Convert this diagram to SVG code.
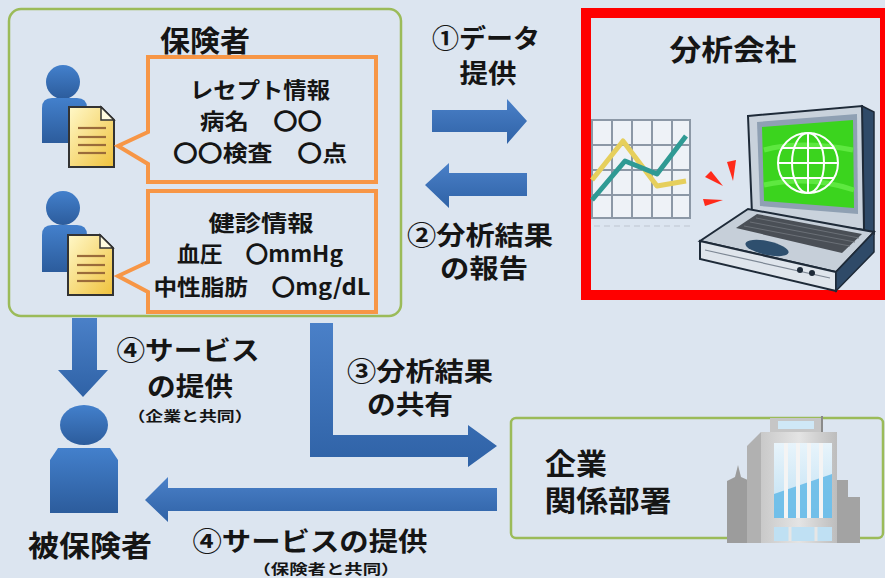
<svg xmlns="http://www.w3.org/2000/svg" width="885" height="578" viewBox="0 0 885 578">
  <style>
    text { font-family: "Noto Sans CJK JP", "Noto Sans CJK SC", sans-serif; font-weight: bold; fill: #151515; text-anchor: middle; }
    .t30 { font-size: 29px; }
    .t26 { font-size: 26px; }
    .t22 { font-size: 22px; }
    .t15 { font-size: 14px; }
    .group-box { fill: none; stroke: #9bbb59; stroke-width: 2.5; }
    .callout { fill: none; stroke: #f79646; stroke-width: 4; stroke-linejoin: miter; }
    .arrow { fill: url(#arrowGrad); }
    .person { fill: url(#personGrad); }
    .doc { fill: url(#docGrad); stroke: #333; stroke-width: 2; }
    .doc-fold { fill: #fffbe0; stroke: #333; stroke-width: 1.5; }
    .doc-line { stroke: #9a6b3a; stroke-width: 2.2; }
    .grid { stroke: #8c98a6; stroke-width: 2; fill: none; }
    .globe { fill: none; stroke: #ffffff; stroke-width: 2; }
  </style>
  <defs>
    <linearGradient id="arrowGrad" x1="0" y1="0" x2="0" y2="1">
      <stop offset="0" stop-color="#4a80c8"/>
      <stop offset="1" stop-color="#2f62a6"/>
    </linearGradient>
    <linearGradient id="personGrad" x1="0" y1="0" x2="0" y2="1">
      <stop offset="0" stop-color="#4380cc"/>
      <stop offset="1" stop-color="#2c5c9c"/>
    </linearGradient>
    <linearGradient id="docGrad" x1="0" y1="0" x2="1" y2="1">
      <stop offset="0" stop-color="#fff8c8"/>
      <stop offset="1" stop-color="#f0c23c"/>
    </linearGradient>
    <linearGradient id="towerGrad" x1="0" y1="0" x2="1" y2="0">
      <stop offset="0" stop-color="#c9c9c9"/>
      <stop offset="0.5" stop-color="#e4e4e4"/>
      <stop offset="1" stop-color="#bdbdbd"/>
    </linearGradient>
    <linearGradient id="glassGrad" x1="0" y1="0" x2="0" y2="1">
      <stop offset="0" stop-color="#e8f4fb"/>
      <stop offset="1" stop-color="#bfe0f3"/>
    </linearGradient>
    <g id="document">
      <path class="doc" d="M0,0 H32 L45,13 V60 H0 Z"/>
      <path class="doc-fold" d="M32,0 V13 H45 Z"/>
      <line class="doc-line" x1="9" y1="21" x2="37" y2="21"/>
      <line class="doc-line" x1="9" y1="30" x2="37" y2="30"/>
      <line class="doc-line" x1="9" y1="38" x2="37" y2="38"/>
      <line class="doc-line" x1="9" y1="46" x2="37" y2="46"/>
    </g>
  </defs>

  <!-- page background -->
  <rect width="885" height="578" fill="#dce5f0"/>

  <!-- insurer with its two data sources -->
  <g id="insurer">
    <rect class="group-box" x="9" y="9" width="392" height="307" rx="12"/>
    <text class="t30" x="205" y="52" textLength="90" lengthAdjust="spacingAndGlyphs">保険者</text>

    <g id="receipt-info">
      <circle class="person" cx="63" cy="82" r="17"/>
      <path class="person" d="M42,143 V108 Q42,98 52,98 H77 Q87,98 87,108 V143 Z"/>
      <use href="#document" x="69" y="107"/>
      <path class="callout" d="M148,57 H376 V182 H148 V164 L118,146 L148,132 Z"/>
      <text class="t22" x="260" y="98" textLength="140" lengthAdjust="spacingAndGlyphs">レセプト情報</text>
      <text class="t22" x="261" y="129" textLength="122" lengthAdjust="spacingAndGlyphs">病名　〇〇</text>
      <text class="t22" x="260" y="161" textLength="174" lengthAdjust="spacingAndGlyphs">〇〇検査　〇点</text>
    </g>

    <g id="checkup-info">
      <circle class="person" cx="63" cy="208" r="17"/>
      <path class="person" d="M42,272 V235 Q42,225 52,225 H77 Q87,225 87,235 V272 Z"/>
      <use href="#document" x="68" y="235"/>
      <path class="callout" d="M148,191 H376 V312 H148 V292 L118,276 L148,262 Z"/>
      <text class="t22" x="261" y="231" textLength="105" lengthAdjust="spacingAndGlyphs">健診情報</text>
      <text class="t22" x="260" y="262" textLength="166" lengthAdjust="spacingAndGlyphs">血圧　〇mmHg</text>
      <text class="t22" x="262" y="295" textLength="217" lengthAdjust="spacingAndGlyphs">中性脂肪　〇mg/dL</text>
    </g>
  </g>

  <!-- analysis company -->
  <g id="analysis-company">
    <rect class="group-box" x="585" y="12" width="298" height="284" rx="8"/>
    <rect x="586" y="13" width="299" height="282" fill="none" stroke="#ff0000" stroke-width="10"/>
    <text class="t30" x="733" y="61" textLength="127" lengthAdjust="spacingAndGlyphs">分析会社</text>

    <!-- line chart -->
    <rect x="592" y="120" width="98" height="98" fill="#eef2f7"/>
    <path class="grid" d="M592,120 H690 V218 H592 Z M612,120 V218 M632,120 V218 M652,120 V218 M672,120 V218 M592,145 H690 M592,170 H690 M592,195 H690"/>
    <path d="M594,226 H690" stroke="#c8d0da" stroke-width="1.5" stroke-dasharray="6 4"/>
    <polyline points="592,180 623,141 657,186 686,181" fill="none" stroke="#e6cf5c" stroke-width="5" stroke-linejoin="round"/>
    <polyline points="592,200 625,161 657,174 686,136" fill="none" stroke="#2f9a94" stroke-width="5" stroke-linejoin="round"/>

    <!-- alert marks -->
    <polygon points="727,162 736,160 733,181" fill="#ff2a1a"/>
    <polygon points="705,177 711,171 723,186" fill="#ff2a1a"/>
    <polygon points="703,199 705,206 723,200" fill="#ff2a1a"/>

    <!-- laptop -->
    <polygon points="862,106 874,112 874,234 864,230" fill="#2f4a68" stroke="#1e2a38" stroke-width="1.5"/>
    <polygon points="748,116 862,106 864,230 752,214" fill="#c9d2dc" stroke="#1e2a38" stroke-width="2"/>
    <polygon points="757,122 857,114 858,214 760,206" fill="#8fa0b3"/>
    <polygon points="762,127 853,120 854,208 764,201" fill="#3bd41e"/>
    <path d="M764,150 Q800,140 853,150 M764,185 Q810,175 854,190" stroke="#5ee840" stroke-width="5" fill="none"/>
    <g class="globe">
      <circle cx="808" cy="163" r="30"/>
      <ellipse cx="808" cy="163" rx="16" ry="30"/>
      <line x1="808" y1="133" x2="808" y2="193"/>
      <line x1="782" y1="148" x2="834" y2="148"/>
      <line x1="778" y1="163" x2="838" y2="163"/>
      <line x1="782" y1="178" x2="834" y2="178"/>
    </g>
    <polygon points="700,241 748,209 874,232 836,272" fill="#c6cfd9" stroke="#1e2a38" stroke-width="2"/>
    <polygon points="736,228 757,214 862,234 842,253" fill="#4a4f56"/>
    <path d="M744,226 L850,246 M750,222 L855,242 M756,218 L859,238" stroke="#6b7077" stroke-width="1"/>
    <ellipse cx="767" cy="248" rx="22" ry="7" transform="rotate(12 767 248)" fill="#2e4f6e"/>
    <polygon points="700,241 836,272 836,291 700,259" fill="#dfe5ec" stroke="#1e2a38" stroke-width="2"/>
    <path d="M705,250 L830,278" stroke="#7d8794" stroke-width="1.2"/>
    <polygon points="836,272 874,232 874,252 836,291" fill="#2f4a68" stroke="#1e2a38" stroke-width="1.5"/>
    <circle cx="800" cy="270" r="3" fill="#1e2a38"/>
    <circle cx="812" cy="273" r="3" fill="#1e2a38"/>
  </g>

  <!-- insured person -->
  <g id="insured-person">
    <ellipse class="person" cx="84" cy="425" rx="24" ry="20"/>
    <path class="person" d="M50,513 V460 L58,448 H110 L118,460 V513 Z"/>
    <text class="t30" x="90" y="557" textLength="124" lengthAdjust="spacingAndGlyphs">被保険者</text>
  </g>

  <!-- company departments -->
  <g id="company-department">
    <rect class="group-box" x="511" y="418" width="372" height="120" rx="5"/>
    <text class="t30" x="576" y="475" textLength="62" lengthAdjust="spacingAndGlyphs">企業</text>
    <text class="t30" x="608" y="512" textLength="127" lengthAdjust="spacingAndGlyphs">関係部署</text>
    <!-- office building -->
    <polygon points="727,543 727,481 735,477 738,465 741,477 750,481 750,543" fill="#9c9c9c"/>
    <polygon points="835,543 835,480 848,480 848,497 860,497 860,543" fill="#a3a3a3"/>
    <polygon points="747,446 761,432 761,543 747,543" fill="#b1b1b1"/>
    <rect x="770" y="418" width="52" height="15" fill="#c6c6c6"/>
    <rect x="778" y="421" width="36" height="8" fill="#cfe8f6"/>
    <line x1="822" y1="416" x2="822" y2="433" stroke="#8a8a8a" stroke-width="2"/>
    <rect x="761" y="432" width="76" height="111" fill="url(#towerGrad)"/>
    <rect x="774" y="443" width="58" height="75" fill="url(#glassGrad)"/>
    <polygon points="774,518 774,494 832,474 832,518" fill="#5cb6e6" opacity="0.8"/>
    <path d="M786,443 V518 M798,443 V518 M809,443 V518 M821,443 V518" stroke="#f4f4f4" stroke-width="4"/>
    <rect x="774" y="527" width="58" height="14" fill="#bfe0f3"/>
    <path d="M790,527 V541 M816,527 V541" stroke="#e6e6e6" stroke-width="3"/>
  </g>

  <!-- connectors -->
  <g id="connectors">
    <path class="arrow" d="M432,110 H507 V99 L527,121 L507,144 V132 H432 Z"/>
    <path class="arrow" d="M527,173 H449 V163 L425,185 L449,208 V196 H527 Z"/>
    <path class="arrow" d="M72,318 H97 V370 H108 L83,397 L58,370 H72 Z"/>
    <path class="arrow" d="M310,323 H333 V435 H468 V425 L497,446 L468,467 V457 H310 Z"/>
    <path class="arrow" d="M497,488 V511 H168 V522 L145,500 L168,477 V488 Z"/>

    <text class="t26" x="486" y="48" textLength="108" lengthAdjust="spacingAndGlyphs">①データ</text>
    <text class="t26" x="488" y="83" textLength="57" lengthAdjust="spacingAndGlyphs">提供</text>
    <text class="t26" x="480" y="245" textLength="146" lengthAdjust="spacingAndGlyphs">②分析結果</text>
    <text class="t26" x="484" y="278" textLength="88" lengthAdjust="spacingAndGlyphs">の報告</text>

    <text class="t26" x="188" y="360" textLength="143" lengthAdjust="spacingAndGlyphs">④サービス</text>
    <text class="t26" x="190" y="396" textLength="86" lengthAdjust="spacingAndGlyphs">の提供</text>
    <text class="t15" x="190" y="421" textLength="125" lengthAdjust="spacingAndGlyphs">（企業と共同）</text>

    <text class="t26" x="420" y="381" textLength="146" lengthAdjust="spacingAndGlyphs">③分析結果</text>
    <text class="t26" x="410" y="414" textLength="86" lengthAdjust="spacingAndGlyphs">の共有</text>

    <text class="t26" x="310" y="551" textLength="235" lengthAdjust="spacingAndGlyphs">④サービスの提供</text>
    <text class="t15" x="326" y="574" textLength="147" lengthAdjust="spacingAndGlyphs">（保険者と共同）</text>
  </g>
</svg>
